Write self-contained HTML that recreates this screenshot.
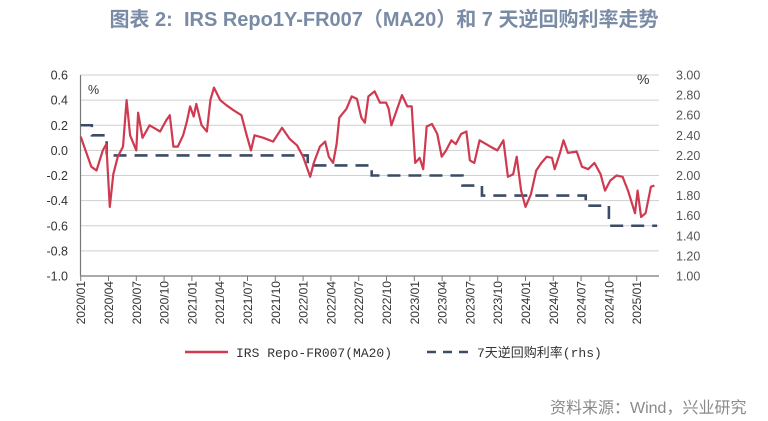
<!DOCTYPE html>
<html><head><meta charset="utf-8">
<style>
html,body{margin:0;padding:0;background:#fff;}
body{width:768px;height:421px;overflow:hidden;position:relative;font-family:"Liberation Sans","Noto Sans CJK SC",sans-serif;}
#title{position:absolute;left:0;top:3px;width:768px;text-align:center;font-size:20px;font-weight:bold;color:#7a8ba6;font-family:"Liberation Sans","Noto Sans CJK SC",sans-serif;}
#source{position:absolute;left:550px;top:394px;font-size:16px;color:#8a8a8a;white-space:nowrap;}
svg{position:absolute;left:0;top:0;}
</style></head><body>
<div id="title">图表 2:&nbsp; IRS Repo1Y-FR007（MA20）和 7 天逆回购利率走势</div>
<svg id="chart" width="768" height="421"></svg>
<div id="source">资料来源：Wind，兴业研究</div>
<script>
// months since 2020/01
const spreadMonths=[0,1.14,1.71,2.38,2.76,3.14,3.52,4.0,4.57,4.95,5.33,6.0,6.19,6.67,7.43,8.57,9.24,9.62,10.0,10.48,11.05,11.43,11.81,12.19,12.48,13.05,13.62,14.0,14.38,15.05,15.72,16.48,17.34,17.91,18.38,18.76,19.72,20.76,21.72,22.57,23.34,24.0,24.77,25.15,25.81,26.38,26.77,27.24,27.62,27.91,28.67,29.24,29.81,30.29,30.67,31.05,31.72,32.29,32.96,33.24,33.53,34.67,35.24,35.72,36.1,36.58,36.96,37.34,37.91,38.48,38.96,39.43,40.0,40.48,41.05,41.62,42.0,42.48,43.05,44.2,44.96,45.62,46.1,46.67,47.05,47.53,48.0,48.58,49.15,49.72,50.29,50.86,51.15,51.72,52.1,52.58,53.53,54.1,54.77,55.44,56.1,56.58,57.15,57.82,58.48,59.06,59.82,60.1,60.48,60.96,61.53,61.91];
const spreadValues=[0.11,-0.13,-0.16,0.0,0.05,-0.45,-0.19,-0.05,0.03,0.4,0.12,0.0,0.3,0.1,0.2,0.15,0.24,0.28,0.03,0.03,0.12,0.22,0.35,0.27,0.37,0.2,0.15,0.4,0.5,0.4,0.36,0.32,0.28,0.12,0.0,0.12,0.1,0.07,0.18,0.09,0.04,-0.05,-0.21,-0.1,0.03,0.07,-0.05,-0.1,0.05,0.26,0.33,0.43,0.41,0.26,0.22,0.43,0.47,0.38,0.38,0.33,0.2,0.44,0.35,0.35,-0.1,-0.06,-0.15,0.19,0.21,0.13,-0.05,0.0,0.08,0.05,0.13,0.15,-0.08,-0.1,0.08,0.03,0.0,0.08,-0.21,-0.19,-0.05,-0.32,-0.45,-0.35,-0.16,-0.1,-0.05,-0.06,-0.15,-0.02,0.08,-0.02,-0.01,-0.13,-0.15,-0.1,-0.19,-0.32,-0.24,-0.2,-0.21,-0.32,-0.5,-0.32,-0.53,-0.5,-0.29,-0.28];
const repoMonths=[0,1.2,2.8,24.5,31.4,41.2,43.3,54.5,57.0,62.2];
const repoValues=[2.5,2.4,2.2,2.1,2.0,1.9,1.8,1.7,1.5,1.5];
const leftTicks=[0.6,0.4,0.2,0.0,-0.2,-0.4,-0.6,-0.8,-1.0];
const rightTicks=[3.0,2.8,2.6,2.4,2.2,2.0,1.8,1.6,1.4,1.2,1.0];
const xLabels=["2020/01","2020/04","2020/07","2020/10","2021/01","2021/04","2021/07","2021/10","2022/01","2022/04","2022/07","2022/10","2023/01","2023/04","2023/07","2023/10","2024/01","2024/04","2024/07","2024/10","2025/01"];

const NS="http://www.w3.org/2000/svg";
const svg=document.getElementById('chart');
const X0=80.5,X1=659,Y0=75,Y1=276;
const PXM=27.8/3;
const xs=m=>80.7+m*PXM;
const yl=v=>Y0+(0.6-v)/1.6*(Y1-Y0);
const yr=v=>Y0+(3.0-v)/2.0*(Y1-Y0);
function mk(tag,attrs,parent){const e=document.createElementNS(NS,tag);for(const k in attrs)e.setAttribute(k,attrs[k]);(parent||svg).appendChild(e);return e;}

const grid=mk('g',{});


leftTicks.forEach(v=>{
  const l=mk('line',{x1:X0,x2:X1,y1:yl(v),y2:yl(v),stroke:'#cfcfcf','stroke-width':1},grid);
  
  
  const t=mk('text',{x:68,y:yl(v)+4.5,'text-anchor':'end','font-size':12.5,fill:'#333','font-family':'Liberation Sans, sans-serif'});
  t.textContent=v.toFixed(1);
  
  
});
rightTicks.forEach(v=>{
  const t=mk('text',{x:676,y:yr(v)+4.5,'font-size':12.5,fill:'#555','font-family':'Liberation Sans, sans-serif'});
  t.textContent=v.toFixed(2);
  
  
});
const ax=mk('line',{x1:X0,x2:X0,y1:Y0,y2:Y1,stroke:'#777','stroke-width':1.2});


const bx=mk('line',{x1:X0,x2:X1,y1:Y1,y2:Y1,stroke:'#777','stroke-width':1.2});


xLabels.forEach((s,i)=>{
  const x=xs(i*3);
  const tk=mk('line',{x1:x,x2:x,y1:Y1,y2:Y1+5,stroke:'#777','stroke-width':1});
  
  
  const t=mk('text',{x:0,y:0,'text-anchor':'end','font-size':12,fill:'#333','font-family':'Liberation Sans, sans-serif',transform:`translate(${x+4.5},281) rotate(-90)`});
  t.textContent=s;
  
  
});
const pl=mk('text',{x:88,y:94,'font-size':12.5,fill:'#333'});pl.textContent='%';


const pr=mk('text',{x:637,y:84,'font-size':14,fill:'#333'});pr.textContent='%';



// repo step line
let d='';
for(let i=0;i<repoMonths.length;i++){
  const x=xs(repoMonths[i]);
  if(i===0)d+=`M${x},${yr(repoValues[i])}`;
  else d+=`L${x},${yr(repoValues[i-1])}L${x},${yr(repoValues[i])}`;
}
const rp=mk('path',{d:d,fill:'none',stroke:'#3c4b66','stroke-width':2.6,'stroke-dasharray':'13 8'});



// spread line
const sd=spreadMonths.map((m,i)=>(i?'L':'M')+xs(m).toFixed(1)+','+yl(spreadValues[i]).toFixed(1)).join('');
const sp=mk('path',{d:sd,fill:'none',stroke:'#cf3a50','stroke-width':2.2,'stroke-linejoin':'round'});



// legend
const lg=mk('g',{});


const l1=mk('line',{x1:185,x2:228,y1:352,y2:352,stroke:'#cf3a50','stroke-width':2.5},lg);


const t1=mk('text',{x:236,y:357,'font-size':13,fill:'#333','font-family':'Liberation Mono, monospace'},lg);
t1.textContent='IRS Repo-FR007(MA20)';


const l2=mk('line',{x1:427,x2:475,y1:352,y2:352,stroke:'#3c4b66','stroke-width':2.5,'stroke-dasharray':'9 7'},lg);


const t2=mk('text',{x:477,y:357,'font-size':13,fill:'#333','font-family':'Liberation Mono, Noto Sans CJK SC, monospace'},lg);
t2.textContent='7天逆回购利率(rhs)';


</script>
</body></html>
